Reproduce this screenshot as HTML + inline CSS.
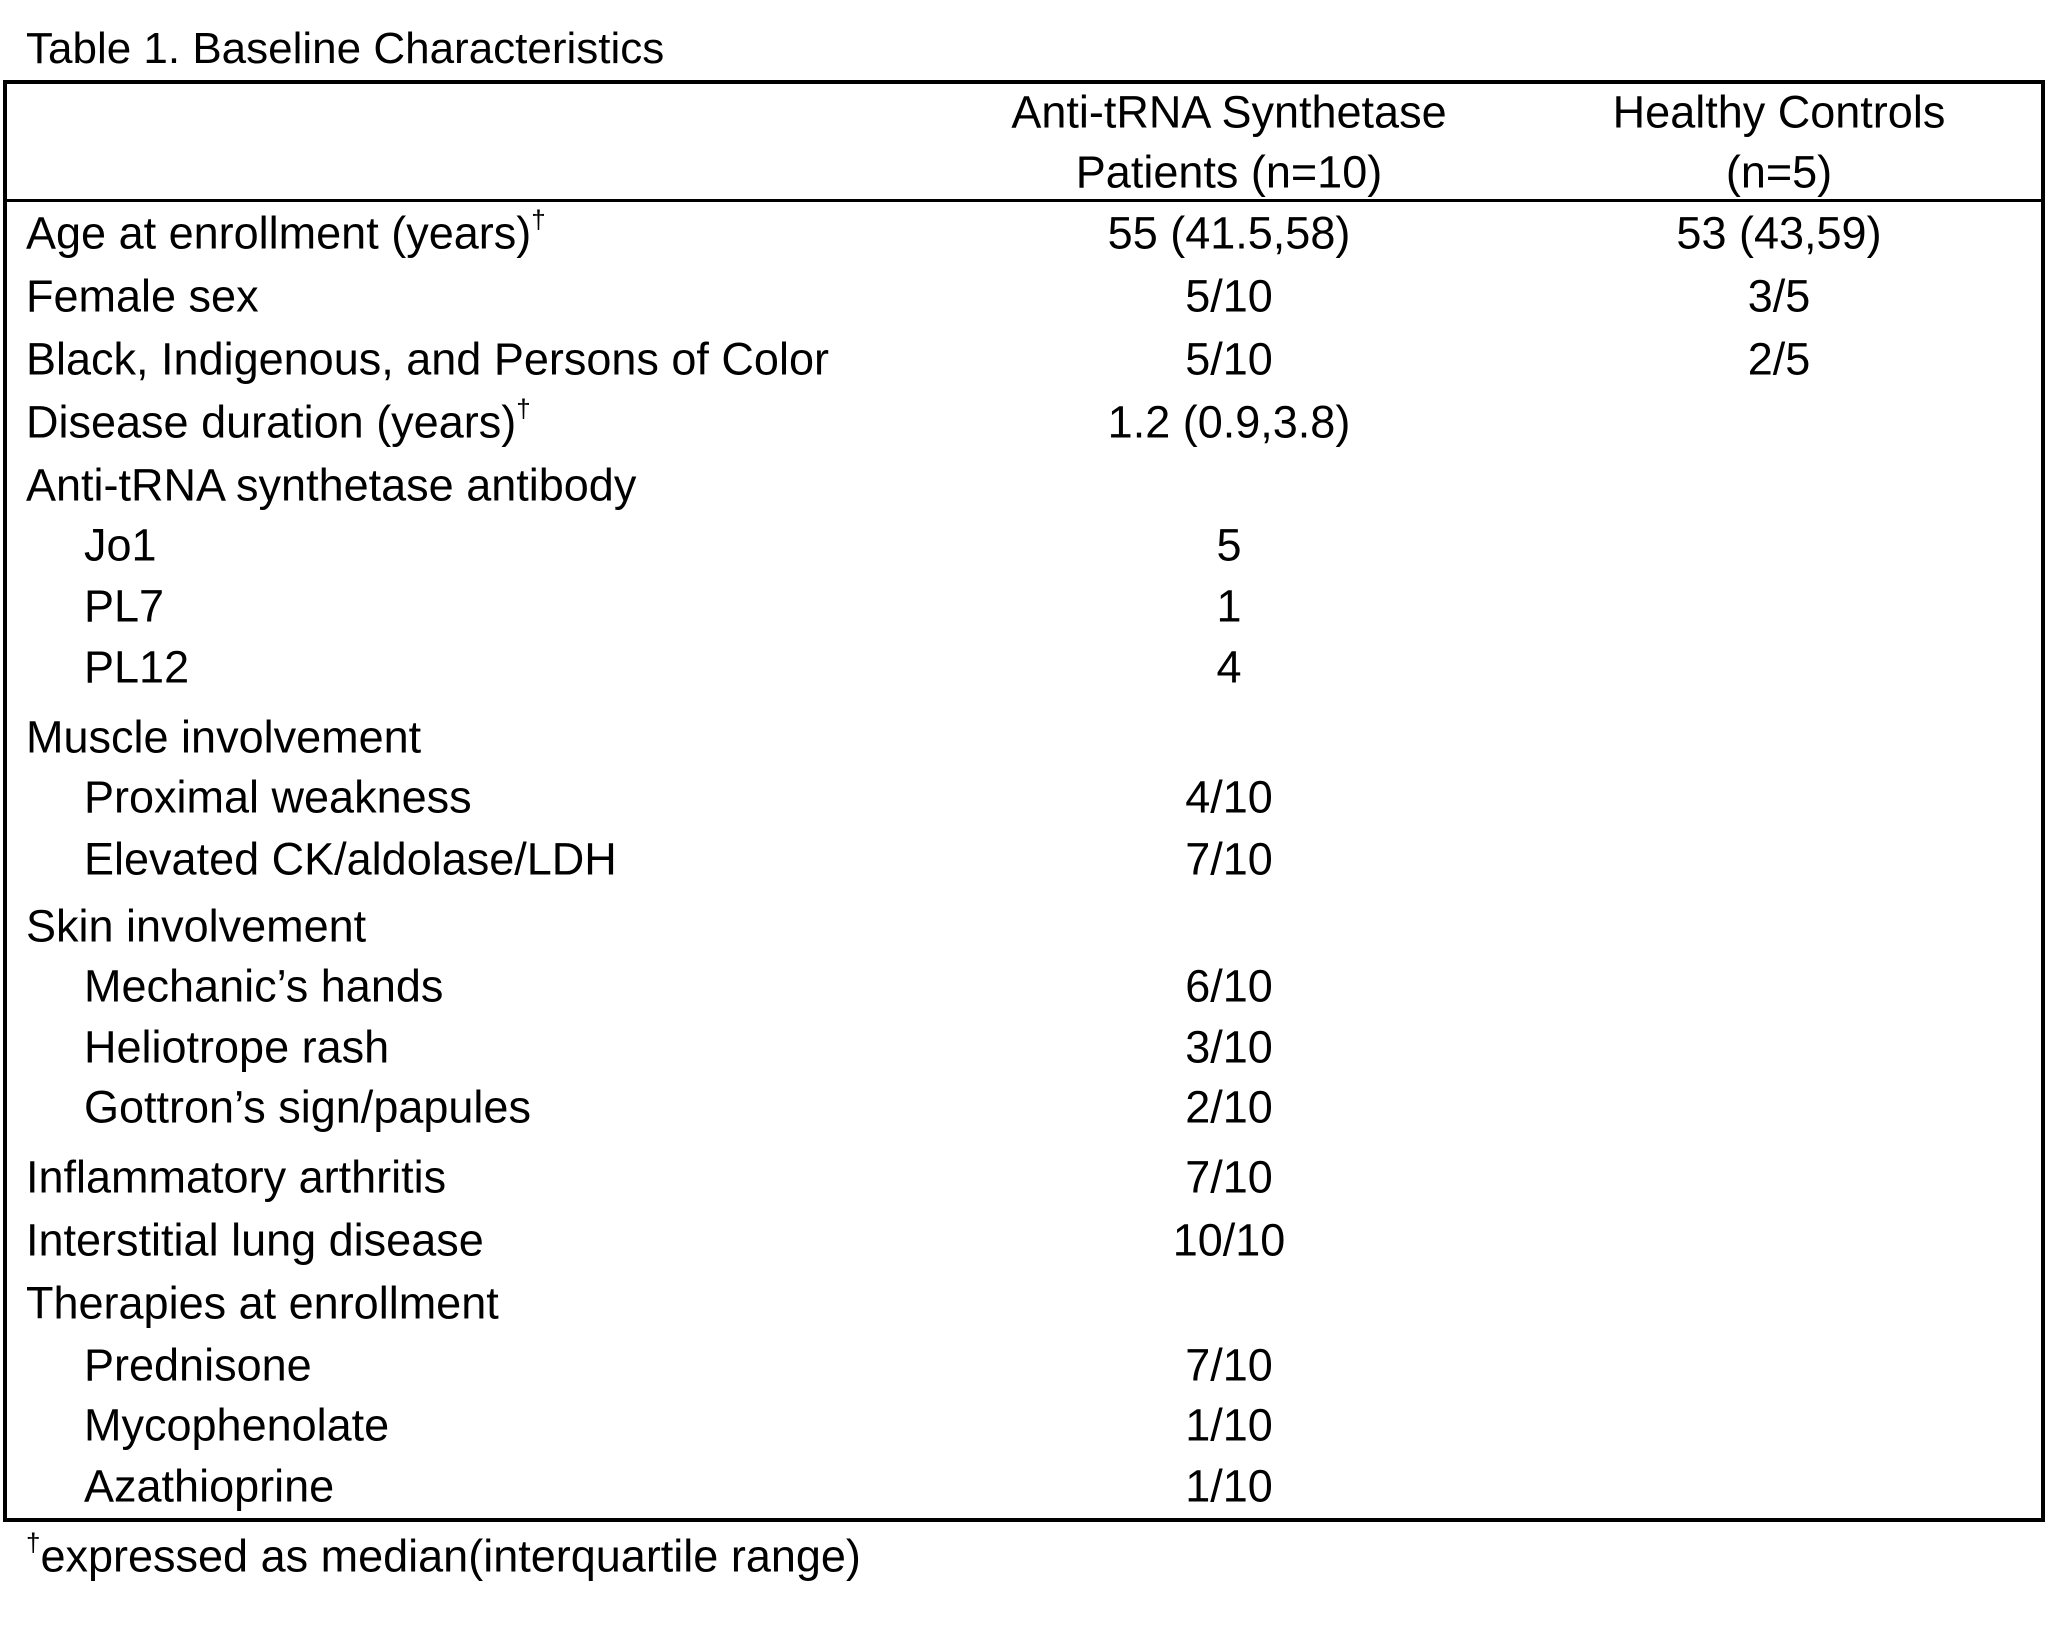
<!DOCTYPE html>
<html><head><meta charset="utf-8"><style>
html,body{margin:0;padding:0;background:#fff;}
body{width:2053px;height:1650px;position:relative;overflow:hidden;font-family:"Liberation Sans",sans-serif;color:#000;}
.t{position:absolute;font-size:45px;line-height:1;white-space:nowrap;transform:translateY(-50%);}
.c{transform:translate(-50%,-50%);}
sup{font-size:26px;vertical-align:top;position:relative;top:-4px;}
#box{position:absolute;left:3px;top:80px;width:2034px;height:1434px;border:4px solid #000;}
#hl{position:absolute;left:3px;top:199px;width:2042px;height:3px;background:#000;}
</style></head><body>
<div class="t" style="left:26px;top:49px;font-size:44px;">Table 1. Baseline Characteristics</div>
<div id="box"></div><div id="hl"></div>
<div class="t c" style="left:1229px;top:112px;">Anti-tRNA Synthetase</div>
<div class="t c" style="left:1229px;top:172px;">Patients (n=10)</div>
<div class="t c" style="left:1779px;top:112px;">Healthy Controls</div>
<div class="t c" style="left:1779px;top:172px;">(n=5)</div>

<div class="t" style="left:26px;top:233px;">Age at enrollment (years)<sup>†</sup></div>
<div class="t c" style="left:1229px;top:233px;">55 (41.5,58)</div>
<div class="t c" style="left:1779px;top:233px;">53 (43,59)</div>
<div class="t" style="left:26px;top:296px;">Female sex</div>
<div class="t c" style="left:1229px;top:296px;">5/10</div>
<div class="t c" style="left:1779px;top:296px;">3/5</div>
<div class="t" style="left:26px;top:359px;">Black, Indigenous, and Persons of Color</div>
<div class="t c" style="left:1229px;top:359px;">5/10</div>
<div class="t c" style="left:1779px;top:359px;">2/5</div>
<div class="t" style="left:26px;top:422px;">Disease duration (years)<sup>†</sup></div>
<div class="t c" style="left:1229px;top:422px;">1.2 (0.9,3.8)</div>
<div class="t" style="left:26px;top:485px;">Anti-tRNA synthetase antibody</div>
<div class="t" style="left:84px;top:545px;">Jo1</div><div class="t c" style="left:1229px;top:545px;">5</div>
<div class="t" style="left:84px;top:606px;">PL7</div><div class="t c" style="left:1229px;top:606px;">1</div>
<div class="t" style="left:84px;top:667px;">PL12</div><div class="t c" style="left:1229px;top:667px;">4</div>
<div class="t" style="left:26px;top:737px;">Muscle involvement</div>
<div class="t" style="left:84px;top:797px;">Proximal weakness</div><div class="t c" style="left:1229px;top:797px;">4/10</div>
<div class="t" style="left:84px;top:859px;">Elevated CK/aldolase/LDH</div><div class="t c" style="left:1229px;top:859px;">7/10</div>
<div class="t" style="left:26px;top:926px;">Skin involvement</div>
<div class="t" style="left:84px;top:986px;">Mechanic’s hands</div><div class="t c" style="left:1229px;top:986px;">6/10</div>
<div class="t" style="left:84px;top:1047px;">Heliotrope rash</div><div class="t c" style="left:1229px;top:1047px;">3/10</div>
<div class="t" style="left:84px;top:1107px;">Gottron’s sign/papules</div><div class="t c" style="left:1229px;top:1107px;">2/10</div>
<div class="t" style="left:26px;top:1177px;">Inflammatory arthritis</div><div class="t c" style="left:1229px;top:1177px;">7/10</div>
<div class="t" style="left:26px;top:1240px;">Interstitial lung disease</div><div class="t c" style="left:1229px;top:1240px;">10/10</div>
<div class="t" style="left:26px;top:1303px;">Therapies at enrollment</div>
<div class="t" style="left:84px;top:1365px;">Prednisone</div><div class="t c" style="left:1229px;top:1365px;">7/10</div>
<div class="t" style="left:84px;top:1425px;">Mycophenolate</div><div class="t c" style="left:1229px;top:1425px;">1/10</div>
<div class="t" style="left:84px;top:1486px;">Azathioprine</div><div class="t c" style="left:1229px;top:1486px;">1/10</div>
<div class="t" style="left:26px;top:1556px;"><sup>†</sup>expressed as median(interquartile range)</div>
</body></html>
